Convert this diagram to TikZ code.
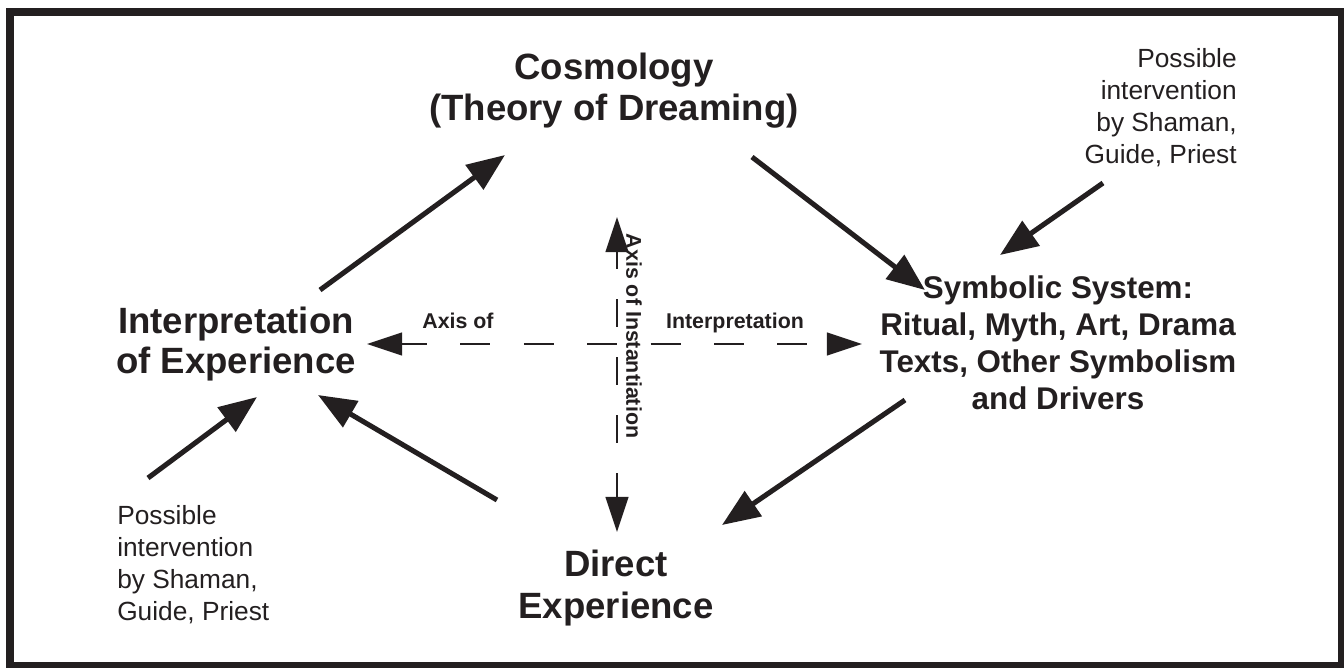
\documentclass[tikz,border=0pt]{standalone}
\usepackage{fontspec}
\setmainfont{Liberation Sans}
\usetikzlibrary{arrows.meta,positioning}
\definecolor{ink}{RGB}{35,31,32}

\begin{document}
\begin{tikzpicture}[x=0.025cm,y=-0.025cm,
  big/.style={font=\fontsize{26}{29}\selectfont\bfseries,align=center,inner sep=0pt,text=ink},
  mid/.style={font=\fontsize{22.3}{26.3}\selectfont\bfseries,align=center,inner sep=0pt,text=ink},
  note/.style={font=\fontsize{18.7}{22.8}\selectfont,inner sep=0pt,text=ink},
  axislabel/.style={font=\fontsize{15.2}{18}\selectfont\bfseries,inner sep=0pt,text=ink},
  flow/.style={ink,line width=3.6pt,-{Triangle[length=27pt,width=21pt]}},
  axis/.style={ink,line width=2.1pt,{Triangle[length=25pt,width=16pt]}-{Triangle[length=25pt,width=16pt]}}]
  \useasboundingbox (0,0) rectangle (1344,667);
  \draw[ink,line width=5.7pt] (10,12) rectangle (1342,666);

  % the four stations
  \node[big] (cosmo) at (614,91) {Cosmology\\(Theory of Dreaming)};
  \node[big] (interp) at (236,344) {Interpretation\\of Experience};
  \node[mid] (symb) at (1058,343) {Symbolic System:\\Ritual, Myth, Art, Drama\\Texts, Other Symbolism\\and Drivers};
  \node[big,font=\fontsize{26}{30.5}\selectfont\bfseries] (direct) at (616,588) {Direct\\Experience};

  % interventions
  \node[note,align=right,anchor=north east] (shamanA) at (1237,48) {Possible\\intervention\\by Shaman,\\Guide, Priest};
  \node[note,align=left,anchor=north west] (shamanB) at (117,505) {Possible\\intervention\\by Shaman,\\Guide, Priest};

  % cycle
  \draw[flow] ([shift={(84,-54)}]interp.center) -- ([shift={(-109,64)}]cosmo.center);
  \draw[flow] ([shift={(138,66)}]cosmo.center) -- ([shift={(-133,-53)}]symb.center);
  \draw[flow] ([shift={(-153,57)}]symb.center) -- ([shift={(106,-63)}]direct.center);
  \draw[flow] ([shift={(-119,-88)}]direct.center) -- ([shift={(82,51)}]interp.center);
  \draw[flow] ([shift={(-134,135)}]shamanA.north east) -- ([shift={(-58,-88)}]symb.center);
  \draw[flow] ([shift={(31,-27)}]shamanB.north west) -- ([shift={(21,53)}]interp.center);

  % axes
  \draw[axis,dash pattern=on 21.3pt off 23.8pt,dash phase=3.2pt]
    ([shift={(131,0)}]interp.center) -- ([shift={(-196,1)}]symb.center);
  \draw[axis,dash pattern=on 19.9pt off 21.3pt,dash phase=7.1pt]
    ([shift={(3,126)}]cosmo.center) -- ([shift={(1,-56)}]direct.center);
  \node[axislabel] (axisA) at (458,321) {Axis of};
  \node[axislabel] (axisB) at (735,323) {Interpretation};
  \node[axislabel,rotate=-90] (axisC) at (634,336) {Axis of Instantiation};
\end{tikzpicture}
\end{document}
